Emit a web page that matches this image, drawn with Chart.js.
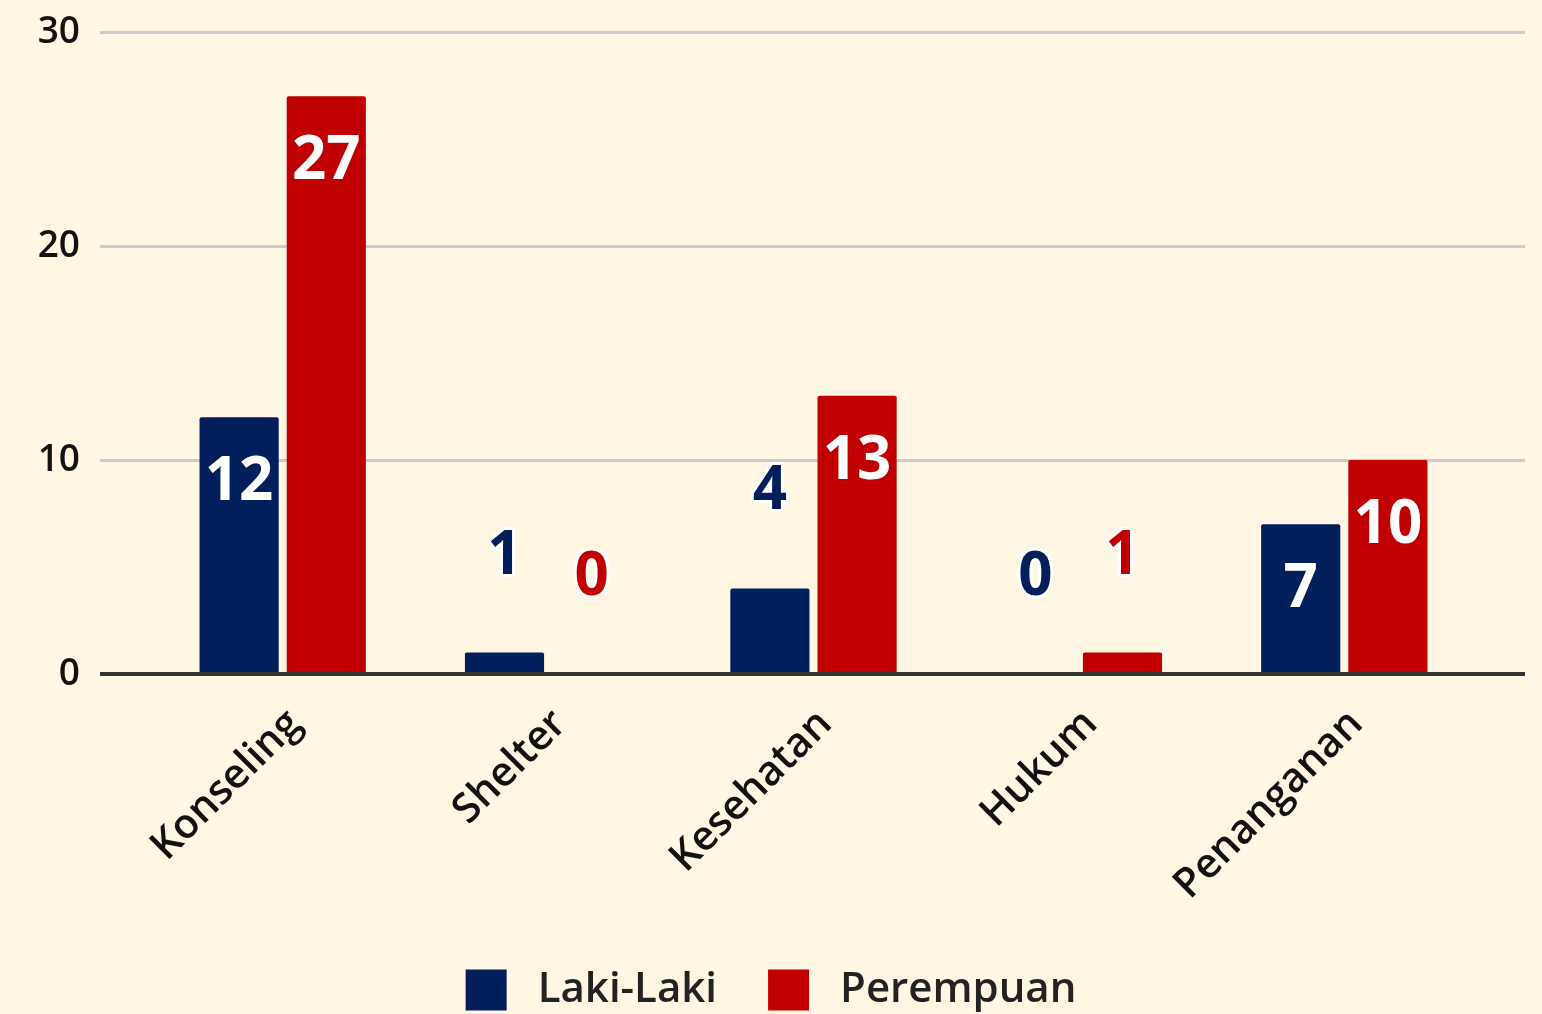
<!DOCTYPE html>
<html lang="id">
<head>
<meta charset="UTF-8">
<title>Layanan</title>
<script src="https://cdn.jsdelivr.net/npm/chart.js"></script>
<style>
  html, body { margin: 0; padding: 0; background: #fff6e4; }
  .wrap { width: 1542px; height: 1014px; }
</style>
</head>
<body>
<div class="wrap"><canvas id="grafik"></canvas></div>
<script>
var kategori = ["Konseling", "Shelter", "Kesehatan", "Hukum", "Penanganan"];
var lakiLaki = [12, 1, 4, 0, 7];
var perempuan = [27, 0, 13, 1, 10];
var tickY = [0, 10, 20, 30];

var biru = "#001f5b";
var merah = "#c00000";
var huruf = "'Open Sans', 'Noto Sans', sans-serif";

// angka di atas / di dalam batang
var labelAngka = {
    id: "labelAngka",
    afterDatasetsDraw: function(chart) {
        var ctx = chart.ctx;
        ctx.save();
        ctx.font = "bold 60px " + huruf;
        ctx.textAlign = "center";
        ctx.textBaseline = "alphabetic";
        ctx.lineJoin = "round";
        chart.data.datasets.forEach(function(ds, i) {
            var meta = chart.getDatasetMeta(i);
            meta.data.forEach(function(bar, j) {
                var v = ds.data[j];
                var teks = String(v);
                if (bar.base - bar.y > 120) {
                    ctx.fillStyle = "#ffffff";
                    ctx.fillText(teks, bar.x, bar.y + 83);
                } else {
                    ctx.strokeStyle = "#ffffff";
                    ctx.lineWidth = 6;
                    ctx.strokeText(teks, bar.x, bar.y - 79);
                    ctx.fillStyle = ds.backgroundColor;
                    ctx.fillText(teks, bar.x, bar.y - 79);
                }
            });
        });
        ctx.restore();
    }
};

// legenda bawah
var legenda = {
    id: "legenda",
    afterDraw: function(chart) {
        var ctx = chart.ctx;
        ctx.save();
        ctx.font = "600 42px " + huruf;
        ctx.textBaseline = "middle";
        var kotak = 41, jarakTeks = 31, jarakItem = 51;
        var items = chart.data.datasets.map(function(ds) {
            return { teks: ds.label, warna: ds.backgroundColor, w: ctx.measureText(ds.label).width };
        });
        var total = 0;
        items.forEach(function(it, i) {
            total += kotak + jarakTeks + it.w + (i > 0 ? jarakItem : 0);
        });
        var x = chart.width / 2 - total / 2;
        var y = 990;
        items.forEach(function(it) {
            ctx.fillStyle = it.warna;
            ctx.fillRect(x, y - kotak / 2, kotak, kotak);
            ctx.fillStyle = "#222222";
            ctx.fillText(it.teks, x + kotak + jarakTeks, y);
            x += kotak + jarakTeks + it.w + jarakItem;
        });
        ctx.restore();
    }
};

function warnaGaris(c) {
    return c.tick && c.tick.value === 0 ? "#333333" : "#cccccc";
}
function tebalGaris(c) {
    return c.tick && c.tick.value === 0 ? 4 : 3;
}

new Chart(document.getElementById("grafik"), {
    type: "bar",
    data: {
        labels: kategori,
        datasets: [
            {
                label: "Laki-Laki",
                data: lakiLaki,
                backgroundColor: biru,
                borderRadius: 2,
                borderSkipped: "bottom",
                categoryPercentage: 0.657,
                barPercentage: 0.908
            },
            {
                label: "Perempuan",
                data: perempuan,
                backgroundColor: merah,
                borderRadius: 2,
                borderSkipped: "bottom",
                categoryPercentage: 0.657,
                barPercentage: 0.908
            }
        ]
    },
    options: {
        responsive: true,
        maintainAspectRatio: false,
        animation: false,
        layout: { padding: { top: 32, left: 0, right: 0, bottom: 0 } },
        plugins: {
            legend: { display: false },
            tooltip: { enabled: false }
        },
        scales: {
            x: {
                grid: { display: false, drawTicks: false },
                border: { display: false },
                ticks: {
                    color: "#111111",
                    font: { family: huruf, size: 41, weight: "600" },
                    maxRotation: 45,
                    minRotation: 45,
                    labelOffset: 12,
                    padding: 26
                },
                afterFit: function(s) { s.height = 340; }
            },
            y: {
                position: "left",
                min: 0,
                max: 30,
                afterBuildTicks: function(s) {
                    s.ticks = tickY.map(function(v) { return { value: v }; });
                },
                grid: {
                    color: warnaGaris,
                    lineWidth: tebalGaris,
                    tickColor: warnaGaris,
                    tickWidth: tebalGaris,
                    tickLength: 50
                },
                border: { display: false },
                ticks: {
                    color: "#111111",
                    font: { family: huruf, size: 37, weight: "600" },
                    padding: 20
                },
                afterFit: function(s) {
                    s.width = 150;
                    s.paddingTop = 0;
                    s.paddingBottom = 0;
                }
            },
            y2: {
                position: "right",
                min: 0,
                max: 30,
                afterBuildTicks: function(s) {
                    s.ticks = tickY.map(function(v) { return { value: v }; });
                },
                grid: {
                    drawOnChartArea: false,
                    color: warnaGaris,
                    lineWidth: tebalGaris,
                    tickColor: warnaGaris,
                    tickWidth: tebalGaris,
                    tickLength: 48
                },
                border: { display: false },
                ticks: { color: "rgba(0,0,0,0)", padding: 0 },
                afterFit: function(s) {
                    s.width = 65;
                    s.paddingTop = 0;
                    s.paddingBottom = 0;
                }
            }
        }
    },
    plugins: [labelAngka, legenda]
});
</script>
</body>
</html>
